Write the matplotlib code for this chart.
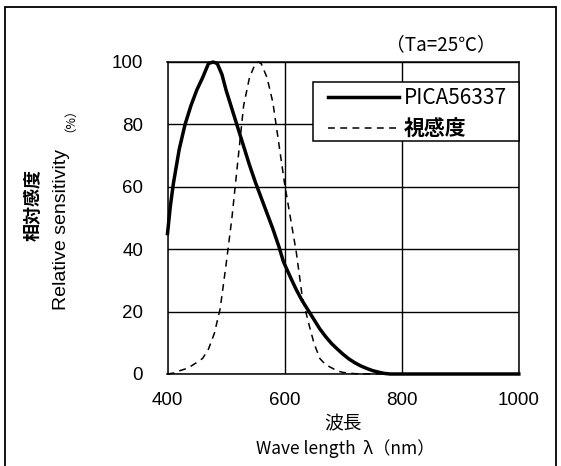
import matplotlib
matplotlib.use("Agg")
import matplotlib.pyplot as plt
from matplotlib.patches import Rectangle
from matplotlib import font_manager

# PICA56337 relative spectral sensitivity
pica_wl = [400, 405, 410, 420, 430, 440, 450, 460, 470, 478, 485, 493, 500,
           510, 520, 530, 540, 550, 560, 570, 580, 590, 598, 610, 620, 630,
           640, 650, 660, 670, 680, 690, 700, 710, 720, 730, 740, 750, 760,
           770, 780, 1000]
pica_val = [45, 54, 61, 72, 80, 86, 91, 95, 99.5, 100, 99.5, 96, 91,
            85, 79, 73, 67, 61.5, 56.5, 51.5, 46.5, 41, 36, 31, 27, 23.5,
            20.5, 17.5, 14.5, 12, 9.8, 8, 6.3, 4.8, 3.6, 2.6, 1.8, 1.1, 0.6,
            0.2, 0, 0]

# luminous efficiency (視感度)
eye_wl = [400, 410, 420, 430, 440, 450, 460, 470, 480, 490, 500, 510, 520,
          530, 540, 550, 555, 560, 570, 580, 590, 600, 610, 620, 630, 640,
          650, 660, 670, 680, 690, 700, 720, 780]
eye_val = [0, 0.3, 1, 1.6, 2.5, 3.7, 5, 8, 13, 21, 35, 50, 68,
           86, 95, 99.5, 100, 99.5, 95, 87, 74, 61, 50, 39, 25, 17,
           10, 5, 3, 2, 1, 0.5, 0.1, 0]

x_ticks = [400, 600, 800, 1000]
y_ticks = [0, 20, 40, 60, 80, 100]

JP = ["Noto Sans CJK JP", "DejaVu Sans"]
names = {f.name for f in font_manager.fontManager.ttflist}
NARROW = "Liberation Sans Narrow" if "Liberation Sans Narrow" in names else None

W, H = 561, 466
fig = plt.figure(figsize=(W / 100, H / 100), dpi=100)
ax = fig.add_axes([167.5 / W, 1 - 374 / H, (518.8 - 167.5) / W, (374 - 62) / H])

ax.plot(pica_wl, pica_val, color="black", linewidth=2.5, label="PICA56337",
        clip_on=False, solid_joinstyle="round")
ax.plot(eye_wl, eye_val, color="black", linewidth=1.1, dashes=(4.5, 3.5),
        label="視感度", clip_on=False)

ax.set_xlim(400, 1000)
ax.set_ylim(0, 100)
ax.set_xticks(x_ticks)
ax.set_yticks(y_ticks)
ax.grid(True, color="black", linewidth=1.0)
ax.set_axisbelow(True)
for s in ax.spines.values():
    s.set_linewidth(1.1)
ax.tick_params(length=0, labelsize=13.5)
ax.tick_params(axis="y", pad=17.5)
ax.tick_params(axis="x", pad=13)
for lab in ax.get_xticklabels() + ax.get_yticklabels():
    lab.set_family("Liberation Sans")

# legend box drawn by hand, legend itself frameless
ax.add_patch(Rectangle((313 / W, 1 - 141 / H), (518.8 - 313) / W, (141 - 82) / H,
                       transform=fig.transFigure, facecolor="white",
                       edgecolor="black", linewidth=1.1, clip_on=False,
                       zorder=4.5))
leg = ax.legend(loc="upper left", bbox_to_anchor=(328 / W, 1 - 87 / H),
                bbox_transform=fig.transFigure, borderaxespad=0,
                frameon=False, handlelength=3.4, handletextpad=0.25,
                labelspacing=0.45, borderpad=0,
                prop={"family": JP, "size": 15})
leg.set_zorder(5)
t1, t2 = leg.get_texts()
if NARROW:
    t1.set_family(NARROW)
    t1.set_fontsize(17)
t2.set_weight("bold")

fig.text(441 / W, 1 - 45 / H, "（Ta=25℃）", ha="center", va="center",
         fontsize=13.5, family=JP)

# y label, two lines
fig.text(33 / W, 1 - 205 / H, "相対感度", rotation=90, ha="center",
         va="center", fontsize=13, weight="bold", family=JP)
fig.text(62 / W, 1 - 230 / H, "Relative sensitivity", rotation=90,
         ha="center", va="center", fontsize=14, family="Liberation Sans")
fig.text(64 / W, 1 - 114 / H, "（%）", rotation=90, ha="center", va="center",
         fontsize=9, family=JP)

# x label, two lines
fig.text(343 / W, 1 - 424 / H, "波長", ha="center", va="center",
         fontsize=13.5, family=JP)
fig.text(345 / W, 1 - 449 / H, "Wave length  λ（nm）", ha="center",
         va="center", fontsize=12.5, family=JP)

# outer frame of the figure
fig.patches.append(Rectangle((5 / W, -0.1), (556 - 5) / W, 1.1 - 6.7 / H,
                             transform=fig.transFigure, fill=False,
                             edgecolor="black", linewidth=1.3))

fig.savefig("out.png", dpi=100)
